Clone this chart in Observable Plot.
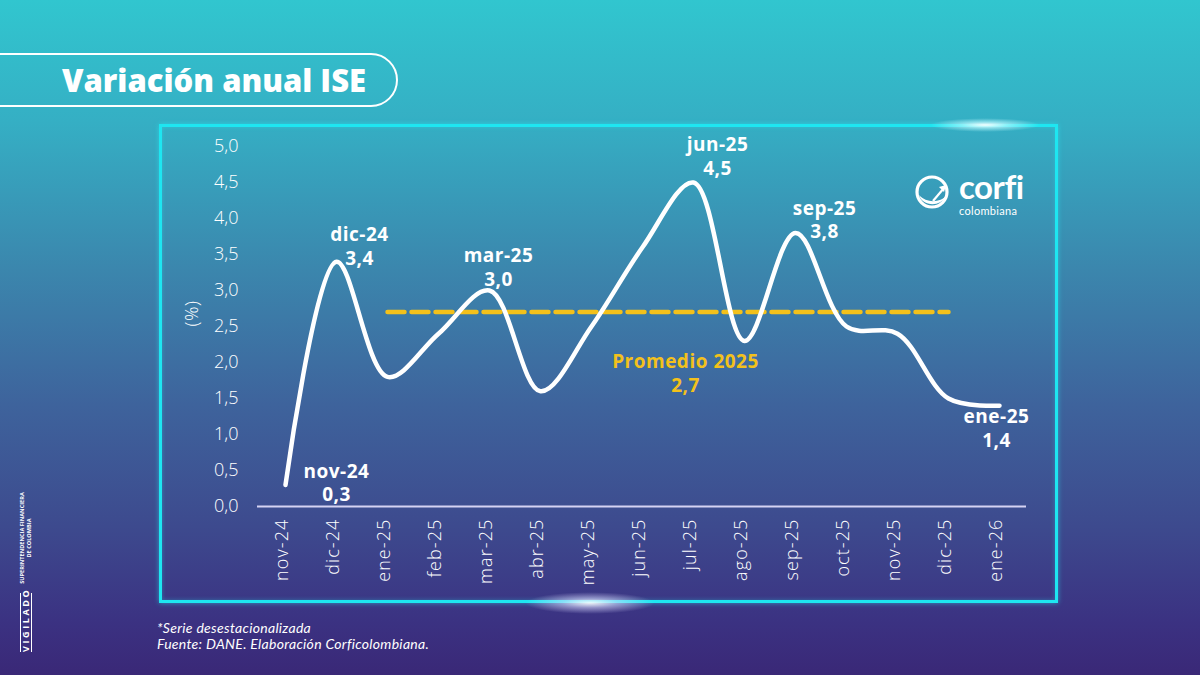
<!DOCTYPE html>
<html>
<head>
<meta charset="utf-8">
<script src="https://cdn.jsdelivr.net/npm/d3@7"></script>
<script src="https://cdn.jsdelivr.net/npm/@observablehq/plot@0.6"></script>
<style>
  html, body { margin: 0; padding: 0; }
  body {
    width: 1200px; height: 675px; overflow: hidden; position: relative;
    font-family: "Open Sans", sans-serif; color: #fff;
    background: linear-gradient(180deg, #31c6cf 0%, #35afc4 18%, #3b86ad 40%, #3e639c 60%, #3d4a8e 78%, #3b3282 92%, #3a2877 100%);
  }
  .title-pill {
    position: absolute; left: -40px; top: 53px; width: 438px; height: 54px;
    box-sizing: border-box; border: 2px solid #fff; border-radius: 27px;
  }
  .title {
    position: absolute; left: 62px; top: 58px; font-size: 31px; font-weight: 800;
    line-height: 44px; letter-spacing: 0px;
  }
  .panel {
    position: absolute; left: 159px; top: 124px; width: 899px; height: 479px;
    box-sizing: border-box; border: 3px solid #1ee6f1;
    box-shadow: 0 0 5px rgba(40, 235, 245, 0.55), inset 0 0 4px rgba(40, 235, 245, 0.35);
  }
  .glow { position: absolute; border-radius: 50%; pointer-events: none; }
  #chart { position: absolute; left: 150px; top: 125px; }
  #chart g[aria-label="x-axis tick label"] text { letter-spacing: 1.1px; }
  #chart g[aria-label="text"] text { letter-spacing: 0.5px; }
  .logo { position: absolute; left: 913px; top: 168px; font-family: Lato, sans-serif; }
  .logo .word { position: absolute; left: 46px; top: -2px; font-size: 33px; line-height: 40px; font-weight: 700; letter-spacing: -0.5px; }
  .logo .sub { position: absolute; left: 46px; top: 36px; font-size: 11px; line-height: 13px; font-weight: 400; letter-spacing: 0.3px; }
  .notes {
    position: absolute; left: 157px; font-family: Lato, sans-serif; font-size: 14px; font-style: italic;
    line-height: 16px; letter-spacing: 0.3px; white-space: nowrap;
  }
  .vigilado {
    position: absolute; left: 19px; top: 652px; transform-origin: 0 0; transform: rotate(-90deg);
    display: flex; align-items: center; white-space: nowrap;
  }
  .vigilado .box {
    width: 59px; height: 10px; box-sizing: content-box; border-top: 1.5px solid #fff; border-bottom: 1.5px solid #fff;
    font-size: 9px; line-height: 10px; font-weight: 700; letter-spacing: 2.6px; text-align: center;
  }
  .vigilado .org {
    margin-left: 3px; width: 104px; font-size: 5.6px; line-height: 7px; font-weight: 700; text-align: center;
  }
</style>
</head>
<body>
<div class="title-pill"></div>
<div class="title">Variación anual ISE</div>

<div class="panel"></div>
<div class="glow" style="left:930px; top:118px; width:110px; height:14px; background: radial-gradient(ellipse at center, rgba(255,255,255,0.95) 0%, rgba(200,250,255,0.6) 30%, rgba(120,230,245,0) 70%);"></div>
<div class="glow" style="left:525px; top:592px; width:130px; height:22px; background: radial-gradient(ellipse at center, rgba(255,255,255,0.9) 0%, rgba(220,220,255,0.55) 30%, rgba(160,160,240,0) 70%);"></div>

<div id="chart"></div>

<div class="logo">
  <svg width="44" height="44" viewBox="0 0 44 44">
    <circle cx="19" cy="24" r="15" fill="none" stroke="#fff" stroke-width="3.2"/>
    <path d="M6 27 C 9 38, 27 40, 33 28 C 28 34, 14 36, 6 27 Z" fill="#fff"/>
    <path d="M20 33 L31 20" stroke="#fff" stroke-width="2.2" fill="none"/>
    <path d="M26 19 L33 17 L31 24 Z" fill="#fff"/>
  </svg>
  <div class="word">corfi</div>
  <div class="sub">colombiana</div>
</div>

<div class="notes" style="top:620px;">*Serie desestacionalizada</div>
<div class="notes" style="top:636px;">Fuente: DANE. Elaboración Corficolombiana.</div>

<div class="vigilado">
  <div class="box">VIGILADO</div>
  <div class="org">SUPERINTENDENCIA FINANCIERA<br>DE COLOMBIA</div>
</div>

<script>
// Monthly annual variation of the seasonally adjusted ISE (%)
const months = ["nov-24", "dic-24", "ene-25", "feb-25", "mar-25", "abr-25", "may-25", "jun-25",
                "jul-25", "ago-25", "sep-25", "oct-25", "nov-25", "dic-25", "ene-26"];
const ise = [0.3, 3.4, 1.8, 2.4, 3.0, 1.6, 2.5, 3.6, 4.5, 2.3, 3.8, 2.5, 2.4, 1.5, 1.4];

// 2025 average and the months the reference line spans
const promedio = 2.7;
const promedioSpan = ["ene-25", "dic-25"];

// Highlighted points: axis month of the point and the name printed above it
const calloutMonths = ["nov-24", "dic-24", "mar-25", "jul-25", "sep-25", "ene-26"];
const calloutNames = ["nov-24", "dic-24", "mar-25", "jun-25", "sep-25", "ene-25"];

const yTicks = [0, 0.5, 1, 1.5, 2, 2.5, 3, 3.5, 4, 4.5, 5];

const fmt = v => v.toFixed(1).replace(".", ",");
const series = months.map((m, i) => ({month: m, value: ise[i]}));
const gold = "#f3c11b";

// label offsets (px) for each callout, in the same order as calloutMonths
const nudges = [[51, -3], [23, -16], [9, -24], [24, -27], [29, -14], [-3, 22]];

const calloutMarks = calloutMonths.map((m, i) => {
  const v = ise[months.indexOf(m)];
  return Plot.text([{month: m, value: v, label: `${calloutNames[i]}\n${fmt(v)}`}], {
    x: "month", y: "value", text: "label",
    dx: nudges[i][0], dy: nudges[i][1],
    fill: "#fff", fontSize: 19, fontWeight: 700, lineHeight: 1.25, lineAnchor: "middle"
  });
});

const chart = Plot.plot({
  width: 890,
  height: 477,
  marginLeft: 107,
  marginRight: 14,
  marginTop: 21,
  marginBottom: 96,
  style: {background: "transparent", color: "#fff", fontFamily: "Open Sans, sans-serif", overflow: "visible"},
  x: {type: "point", domain: months, padding: 0.5, label: null},
  y: {domain: [0, 5], label: null},
  marks: [
    Plot.axisY({ticks: yTicks, tickFormat: fmt, tickSize: 0, tickPadding: 19, fontSize: 18, fontWeight: 300, label: null}),
    Plot.axisX({tickRotate: -90, tickSize: 0, tickPadding: 12, fontSize: 18, fontWeight: 300, dx: -3, label: null}),
    Plot.text(["(%)"], {frameAnchor: "left", dx: -65, rotate: -90, fontSize: 18, fontWeight: 300, fill: "#fff"}),
    Plot.ruleY([0], {stroke: "#d6d3f3", strokeWidth: 2}),
    Plot.line(promedioSpan.map(m => ({month: m, value: promedio})), {
      x: "month", y: "value", stroke: gold, strokeWidth: 4.5, strokeDasharray: "17,7"
    }),
    Plot.line(series, {x: "month", y: "value", curve: "catmull-rom", stroke: "#fff", strokeWidth: 4.5, strokeLinecap: "round"}),
    ...calloutMarks,
    Plot.text([{month: "jul-25", value: promedio, label: `Promedio 2025\n${fmt(promedio)}`}], {
      x: "month", y: "value", text: "label", dx: -8, dy: 60,
      fill: gold, fontSize: 19, fontWeight: 700, lineHeight: 1.25, lineAnchor: "middle"
    })
  ]
});

document.getElementById("chart").appendChild(chart);
</script>
</body>
</html>
